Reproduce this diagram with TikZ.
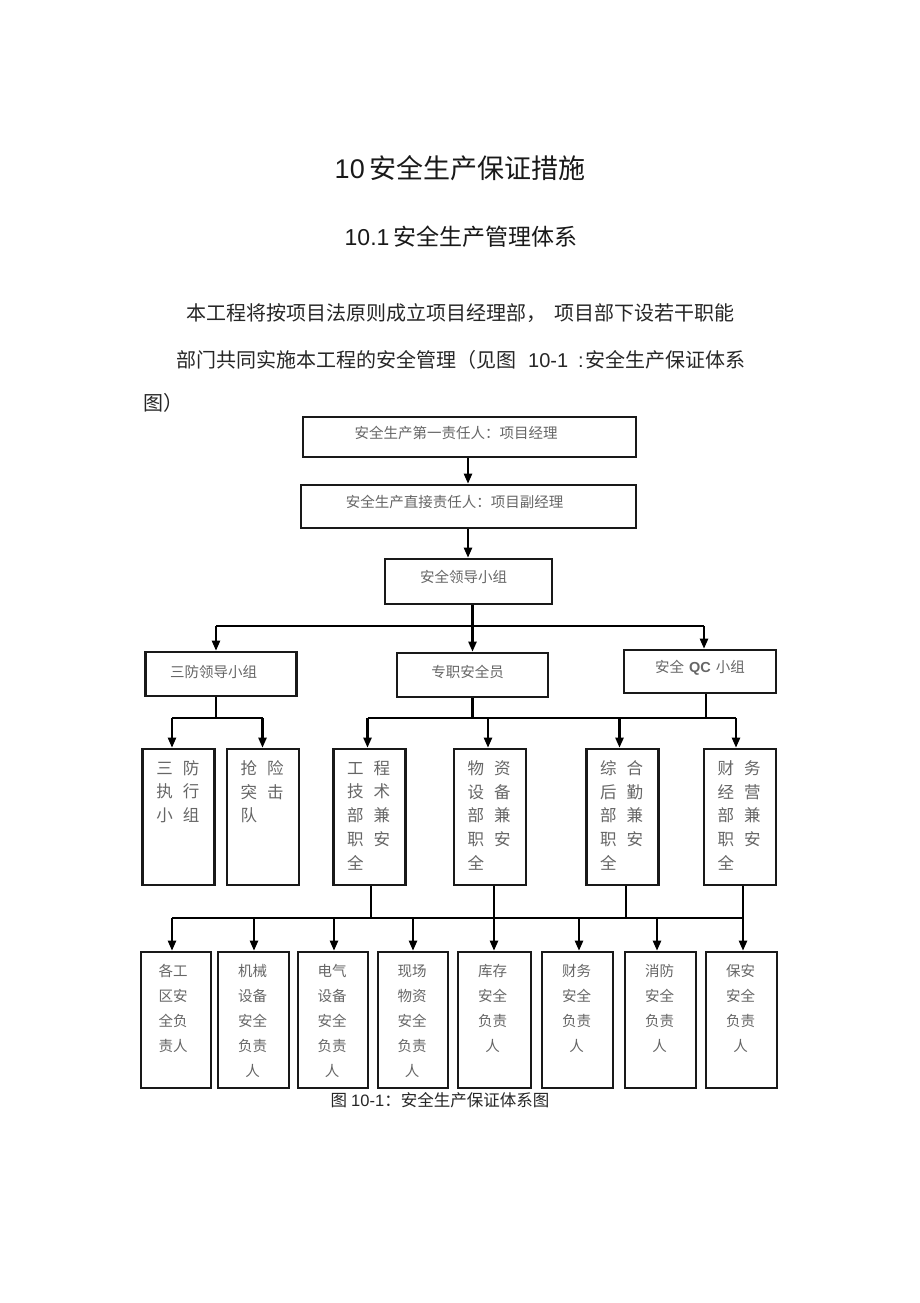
\documentclass[tikz,border=0pt]{standalone}
\usepackage{fontspec}
\setmainfont{Liberation Sans}
\newfontfamily\cjk{Noto Sans CJK SC}
\usetikzlibrary{arrows.meta}
\begin{document}
\begin{tikzpicture}[x=1pt,y=-1pt,
  box/.style={draw=black!90, line width=2.6pt, inner sep=0pt, rectangle},
  lbl/.style={font=\cjk\fontsize{14.5}{16}\selectfont, text=black!60, inner sep=0pt},
  vlbl/.style={font=\cjk\fontsize{16.5}{23.75}\selectfont, text=black!60, inner sep=0pt, align=left, anchor=north},
  blbl/.style={font=\cjk\fontsize{14.5}{25}\selectfont, text=black!60, inner sep=0pt, align=center, anchor=north},
  ptxt/.style={font=\fontsize{20}{24}\selectfont, text=black!85, inner sep=0pt, anchor=west},
  arr/.style={line width=2.2pt, -{Triangle[length=10pt,width=8pt]}},
  ln/.style={line width=2.2pt}]
\fill[white] (0,0) rectangle (920,1303);
\useasboundingbox (0,0) rectangle (920,1303);

% headings and paragraph
\node[font=\fontsize{27}{30}\selectfont, text=black!90, inner sep=0pt] (title) at (460,168) {10{\cjk\,安全生产保证措施}};
\node[font=\fontsize{23}{26}\selectfont, text=black!90, inner sep=0pt] (sub) at (461,237) {10.1{\cjk\,安全生产管理体系}};
\node[ptxt] (p1l) at (186,313) {\cjk 本工程将按项目法原则成立项目经理部，\hspace{8pt}项目部下设若干职能};
\node[ptxt] (p2l) at (176,360) {{\cjk 部门共同实施本工程的安全管理（见图}\hspace{12pt}10-1\hspace{10pt}:{\cjk\hspace{2pt}安全生产保证体系}};
\node[ptxt] (p3l) at (143,403) {\cjk 图）};

% level 1
\node[box, minimum width=333pt, minimum height=40pt] (b1) at (469.5,437) {};
\node[lbl] (t1) at (456,433) {安全生产第一责任人：项目经理};
\node[box, minimum width=335pt, minimum height=43pt] (b2) at (468.5,506.5) {};
\node[lbl] (t2) at (454.5,502) {安全生产直接责任人：项目副经理};
\node[box, minimum width=167pt, minimum height=45pt] (b3) at (468.5,581.5) {};
\node[lbl] (t3) at (463.5,577) {安全领导小组};

% level 2
\node[box, minimum width=151pt, minimum height=44pt] (s1) at (221,674) {};
\node[lbl] (u1) at (213.5,672) {三防领导小组};
\node[box, minimum width=151pt, minimum height=44pt] (s2) at (472.5,675) {};
\node[lbl] (u2) at (467.5,672) {专职安全员};
\node[box, minimum width=152pt, minimum height=43pt] (s3) at (700,671.5) {};
\node[lbl] (u3) at (700,668) {安全\hspace{5pt}{\rmfamily\bfseries QC}\hspace{5pt}小组};

% level 3
\foreach \n/\cx in {1/178.75, 2/263, 3/369.5, 4/490, 5/622.5, 6/740}
  \node[box, minimum width=72pt, minimum height=136pt] (q\n) at (\cx,817) {};
\node[vlbl] (v1) at ([xshift=-1pt,yshift=-12.5pt]q1.north) {三\hspace{10pt}防\\执\hspace{10pt}行\\小\hspace{10pt}组};
\node[vlbl] (v2) at ([xshift=-1pt,yshift=-12.5pt]q2.north) {抢\hspace{10pt}险\\突\hspace{10pt}击\\队\hspace{10pt}\phantom{击}};
\node[vlbl] (v3) at ([xshift=-1pt,yshift=-12.5pt]q3.north) {工\hspace{10pt}程\\技\hspace{10pt}术\\部\hspace{10pt}兼\\职\hspace{10pt}安\\全\hspace{10pt}\phantom{安}};
\node[vlbl] (v4) at ([xshift=-1pt,yshift=-12.5pt]q4.north) {物\hspace{10pt}资\\设\hspace{10pt}备\\部\hspace{10pt}兼\\职\hspace{10pt}安\\全\hspace{10pt}\phantom{安}};
\node[vlbl] (v5) at ([xshift=-1pt,yshift=-12.5pt]q5.north) {综\hspace{10pt}合\\后\hspace{10pt}勤\\部\hspace{10pt}兼\\职\hspace{10pt}安\\全\hspace{10pt}\phantom{安}};
\node[vlbl] (v6) at ([xshift=-1pt,yshift=-12.5pt]q6.north) {财\hspace{10pt}务\\经\hspace{10pt}营\\部\hspace{10pt}兼\\职\hspace{10pt}安\\全\hspace{10pt}\phantom{安}};

% level 4
\foreach \n/\cx/\w in {1/176/70, 2/253.5/71, 3/333/70, 4/413/70, 5/494.5/73, 6/577.5/71, 7/660.5/71, 8/741.5/71}
  \node[box, minimum width=\w pt, minimum height=136pt] (r\n) at (\cx,1020) {};
\node[blbl] (w1) at ([xshift=-3pt,yshift=-13.5pt]r1.north) {各工\\区安\\全负\\责人};
\node[blbl] (w2) at ([xshift=-1pt,yshift=-13.5pt]r2.north) {机械\\设备\\安全\\负责\\人};
\node[blbl] (w3) at ([xshift=-1pt,yshift=-13.5pt]r3.north) {电气\\设备\\安全\\负责\\人};
\node[blbl] (w4) at ([xshift=-1pt,yshift=-13.5pt]r4.north) {现场\\物资\\安全\\负责\\人};
\node[blbl] (w5) at ([xshift=-2pt,yshift=-13.5pt]r5.north) {库存\\安全\\负责\\人};
\node[blbl] (w6) at ([xshift=-1pt,yshift=-13.5pt]r6.north) {财务\\安全\\负责\\人};
\node[blbl] (w7) at ([xshift=-1pt,yshift=-13.5pt]r7.north) {消防\\安全\\负责\\人};
\node[blbl] (w8) at ([xshift=-1pt,yshift=-13.5pt]r8.north) {保安\\安全\\负责\\人};

% caption
\node[font=\fontsize{16.5}{20}\selectfont, text=black!85, inner sep=0pt] (cap) at (440,1100) {{\cjk 图}\hspace{4pt}10-1{\cjk ：安全生产保证体系图}};

% connectors level 1
\draw[arr] (b1.south -| 468,0) -- (b2.north -| 468,0);
\draw[arr] (b2.south -| 468,0) -- (b3.north -| 468,0);

% junction 1
\coordinate (j1) at (472.5,626);
\coordinate (j1l) at (216,626);
\coordinate (j1r) at (704,626);
\draw[ln] (b3.south -| j1) -- (j1);
\draw[ln] (j1l) -- (j1r);
\draw[arr] (j1l) -- (j1l |- s1.north);
\draw[arr] (j1) -- (j1 |- s2.north);
\draw[arr] (j1r) -- (j1r |- s3.north);

% junction 2 (left)
\coordinate (j2) at (216,718);
\coordinate (j2a) at (172,718);
\coordinate (j2b) at (262.5,718);
\draw[ln] (s1.south -| j2) -- (j2);
\draw[ln] (j2a) -- (j2b);
\draw[arr] (j2a) -- (j2a |- q1.north);
\draw[arr] (j2b) -- (j2b |- q2.north);

% junction 3 (right)
\coordinate (j3) at (472.5,718);
\coordinate (j3q) at (706,718);
\coordinate (j3a) at (367.5,718);
\coordinate (j3b) at (488,718);
\coordinate (j3c) at (619.5,718);
\coordinate (j3d) at (736,718);
\draw[ln] (s2.south -| j3) -- (j3);
\draw[ln] (s3.south -| j3q) -- (j3q);
\draw[ln] (j3a) -- (j3d);
\draw[arr] (j3a) -- (j3a |- q3.north);
\draw[arr] (j3b) -- (j3b |- q4.north);
\draw[arr] (j3c) -- (j3c |- q5.north);
\draw[arr] (j3d) -- (j3d |- q6.north);

% junction 4 (bottom)
\coordinate (k3) at (371,918);
\coordinate (k4) at (494,918);
\coordinate (k5) at (626,918);
\coordinate (k6) at (743,918);
\draw[ln] (q3.south -| k3) -- (k3);
\draw[ln] (q4.south -| k4) -- (k4);
\draw[ln] (q5.south -| k5) -- (k5);
\draw[ln] (q6.south -| k6) -- (k6);
\foreach \n/\ax in {1/172, 2/254, 3/334, 4/413, 5/494, 6/579, 7/657, 8/743}
  \coordinate (a\n) at (\ax,918);
\draw[ln] (a1) -- (a8);
\foreach \n in {1,...,8}
  \draw[arr] (a\n) -- (a\n |- r\n.north);
\end{tikzpicture}
\end{document}
